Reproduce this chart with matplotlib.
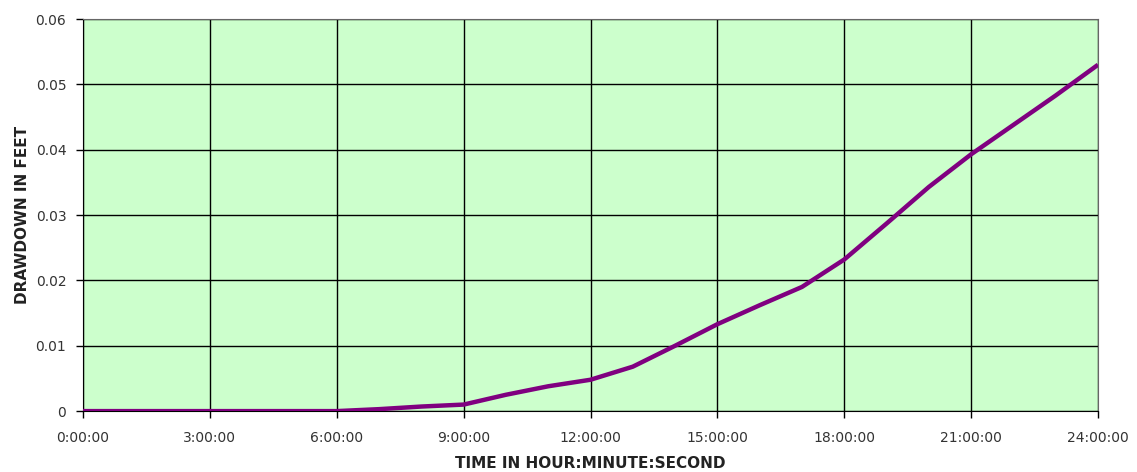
import matplotlib
matplotlib.use('Agg')
import matplotlib.pyplot as plt

# Drawdown readings, hourly
hours = [0, 1, 2, 3, 4, 5, 6, 7, 8, 9, 10, 11, 12, 13, 14, 15, 16, 17, 18, 19, 20, 21, 22, 23, 24]
drawdown = [0, 0, 0, 0, 0, 0, 0, 0.0003, 0.0007, 0.001, 0.0025, 0.0038, 0.0048, 0.0068,
            0.0100, 0.0133, 0.0162, 0.0190, 0.0232, 0.0287, 0.0343, 0.0393, 0.0438, 0.0483, 0.053]
xticks = [0, 3, 6, 9, 12, 15, 18, 21, 24]
xtick_labels = ['0:00:00', '3:00:00', '6:00:00', '9:00:00', '12:00:00',
                '15:00:00', '18:00:00', '21:00:00', '24:00:00']
yticks = [0, 0.01, 0.02, 0.03, 0.04, 0.05, 0.06]
ytick_labels = ['0', '0.01', '0.02', '0.03', '0.04', '0.05', '0.06']

plt.rcParams['font.family'] = ['DejaVu Sans']

fig = plt.figure(figsize=(11.37, 4.72), dpi=100)
ax = fig.add_axes([0.073, 0.129, 0.8927, 0.8307])
ax.set_facecolor('#ccffcc')

ax.plot(hours, drawdown, color='#800080', linewidth=3.2, solid_capstyle='butt', zorder=3)

ax.set_xlim(0, 24)
ax.set_ylim(0, 0.06)
ax.set_xticks(xticks)
ax.set_xticklabels(xtick_labels)
ax.set_yticks(yticks)
ax.set_yticklabels(ytick_labels)
ax.grid(True, color='black', linewidth=1)
ax.tick_params(labelsize=10, colors='#333333', length=5, width=1)
ax.tick_params(axis='x', pad=9)
ax.tick_params(axis='y', pad=7)
ax.tick_params(color='black')

for side in ['top', 'right']:
    ax.spines[side].set_color('#666666')
for side in ['left', 'bottom']:
    ax.spines[side].set_color('black')

ax.set_xlabel('TIME IN HOUR:MINUTE:SECOND', fontsize=11, fontweight='bold',
              color='#222222', labelpad=8)
ax.set_ylabel('DRAWDOWN IN FEET', fontsize=11, fontweight='bold',
              color='#222222', labelpad=4)

fig.savefig('out.png', dpi=100)
